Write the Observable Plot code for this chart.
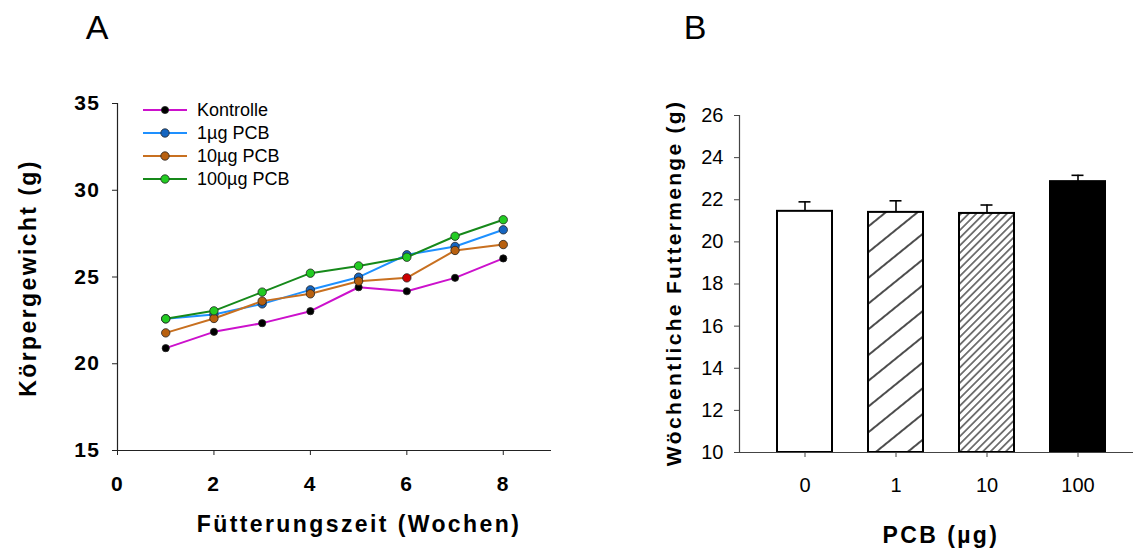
<!DOCTYPE html>
<html><head><meta charset="utf-8">
<script src="https://cdn.jsdelivr.net/npm/d3@7"></script>
<script src="https://cdn.jsdelivr.net/npm/@observablehq/plot@0.6"></script>
<style>
body{margin:0;background:#fff;font-family:"Liberation Sans",Arial,sans-serif;}
#wrap{position:relative;width:1133px;height:556px;overflow:hidden;background:#fff;}
#wrap svg.panel{position:absolute;top:0;}
#panelA text{letter-spacing:1.5px;}
.t{position:absolute;white-space:nowrap;color:#000;line-height:1;}
.title{font-weight:bold;letter-spacing:2.4px;}
.rot{transform:translate(-50%,-50%) rotate(-90deg);}
.ctr{transform:translateX(-50%);}
.leg{position:absolute;left:143px;font-size:18px;line-height:1;display:flex;align-items:center;white-space:nowrap;}
.leg svg{margin-right:10px;}
</style></head>
<body>
<div id="wrap"></div>
<script>
// ---- Panel A data ----
const weeks = [1, 2, 3, 4, 5, 6, 7, 8];
const seriesNames = ["Kontrolle", "1µg PCB", "10µg PCB", "100µg PCB"];
const kontrolle = [20.9, 21.84, 22.34, 23.03, 24.41, 24.18, 24.95, 26.07];
const pcb1 = [22.59, 22.84, 23.45, 24.26, 24.99, 26.28, 26.76, 27.72];
const pcb10 = [21.78, 22.61, 23.61, 24.03, 24.76, 24.95, 26.53, 26.87];
const pcb100 = [22.59, 23.05, 24.13, 25.22, 25.64, 26.14, 27.35, 28.30];
const xTicksA = [0, 2, 4, 6, 8];
const yTicksA = [15, 20, 25, 30, 35];
const xDomainA = [0, 9];
const yDomainA = [15, 35];

// ---- Panel B data ----
const doses = ["0", "1", "10", "100"];
const futter = [21.45, 21.40, 21.35, 22.86];
const futterErr = [0.45, 0.55, 0.40, 0.30];
const yTicksB = [10, 12, 14, 16, 18, 20, 22, 24, 26];
const yDomainB = [10, 26];

// ---- styles ----
const lineColors = ["#cc11cc", "#1e90ff", "#c87020", "#16891a"];
const markerColors = ["#000000", "#1565c0", "#b8600f", "#22cc22"];
const barFills = ["white", "url(#hatchWide)", "url(#hatchDense)", "black"];
const font = "'Liberation Sans', Arial, sans-serif";

const wrap = document.getElementById("wrap");
const allSeries = [kontrolle, pcb1, pcb10, pcb100];

const seriesMarks = allSeries.flatMap((vals, s) => {
  const rows = weeks.map((w, i) => ({week: w, g: vals[i], i}));
  return [
    Plot.line(rows, {x: "week", y: "g", stroke: lineColors[s], strokeWidth: 2}),
    Plot.dot(rows, {x: "week", y: "g", r: s === 0 ? 3.6 : 4.2,
      fill: d => (s === 2 && d.i === 5) ? "#cc0000" : markerColors[s],
      stroke: "#222", strokeWidth: 0.8})
  ];
});

const plotA = Plot.plot({
  width: 560, height: 556,
  marginLeft: 117, marginRight: 9, marginTop: 103, marginBottom: 106,
  x: {domain: xDomainA},
  y: {domain: yDomainA},
  color: {type: "identity"},
  style: {fontFamily: font, background: "transparent", color: "#000"},
  marks: [
    Plot.ruleX([xDomainA[0]], {stroke: "#222", strokeWidth: 1.2}),
    Plot.ruleY([yDomainA[0]], {stroke: "#222", strokeWidth: 1.2}),
    Plot.axisX({ticks: xTicksA, tickSize: 5, tickPadding: 21, fontSize: 21, fontWeight: "bold", label: null, stroke: "#222"}),
    Plot.axisY({ticks: yTicksA, tickSize: 5, tickPadding: 12, fontSize: 21, fontWeight: "bold", label: null, stroke: "#222"}),
    ...seriesMarks
  ]
});
plotA.classList.add("panel");
plotA.id = "panelA";
plotA.style.left = "0px";
wrap.appendChild(plotA);

const rowsB = doses.map((d, i) => ({dose: d, v: futter[i], e: futterErr[i], fill: barFills[i]}));

const plotB = Plot.plot({
  width: 573, height: 556,
  marginLeft: 179, marginRight: 0, marginTop: 115, marginBottom: 104,
  x: {domain: doses, range: [179, 582], paddingInner: 0.4, paddingOuter: 0.4},
  y: {domain: yDomainB},
  color: {type: "identity"},
  style: {fontFamily: font, background: "transparent", color: "#000"},
  marks: [
    Plot.barY(rowsB, {x: "dose", y1: yDomainB[0], y2: "v", fill: "fill", stroke: "black", strokeWidth: 2}),
    Plot.ruleX(rowsB, {x: "dose", y1: "v", y2: d => d.v + d.e, stroke: "black", strokeWidth: 1.6}),
    Plot.tickY(rowsB, {x: "dose", y: d => d.v + d.e, insetLeft: 21.5, insetRight: 21.5, stroke: "black", strokeWidth: 1.6}),
    Plot.ruleY([yDomainB[0]], {stroke: "#444", strokeWidth: 1.2}),
    Plot.frame({anchor: "left", stroke: "#444", strokeWidth: 1.2}),
    Plot.axisX({tickSize: 5, tickPadding: 20, fontSize: 20, label: null, stroke: "#444"}),
    Plot.axisY({ticks: yTicksB, tickSize: 5, tickPadding: 11, fontSize: 20, label: null, stroke: "#444"})
  ]
});
plotB.classList.add("panel");
plotB.style.left = "560px";
const ns = "http://www.w3.org/2000/svg";
const defs = document.createElementNS(ns, "defs");
defs.innerHTML =
  '<pattern id="hatchWide" patternUnits="userSpaceOnUse" width="40" height="20" patternTransform="rotate(-39)">' +
  '<rect width="40" height="20" fill="white"/><line x1="0" y1="10" x2="40" y2="10" stroke="#111" stroke-width="1.3"/></pattern>' +
  '<pattern id="hatchDense" patternUnits="userSpaceOnUse" width="20" height="5.4" patternTransform="rotate(-45)">' +
  '<rect width="20" height="5.4" fill="white"/><line x1="0" y1="2.7" x2="20" y2="2.7" stroke="#111" stroke-width="1.1"/></pattern>';
plotB.insertBefore(defs, plotB.firstChild);
wrap.appendChild(plotB);

// ---- texts ----
function addText(txt, cls, css) {
  const d = document.createElement("div");
  d.className = "t " + cls;
  d.textContent = txt;
  Object.assign(d.style, css);
  wrap.appendChild(d);
  return d;
}
addText("A", "ctr", {left: "97px", top: "10px", fontSize: "34px"});
addText("B", "ctr", {left: "695px", top: "10px", fontSize: "34px"});
addText("Fütterungszeit (Wochen)", "title ctr", {left: "359px", top: "513px", fontSize: "23px"});
addText("Körpergewicht (g)", "title rot", {left: "28px", top: "278px", fontSize: "23px"});
addText("Wöchentliche Futtermenge (g)", "title rot", {left: "673px", top: "283px", fontSize: "21px", letterSpacing: "2.3px"});
addText("PCB (µg)", "title ctr", {left: "941px", top: "524px", fontSize: "23px"});

// ---- legend ----
seriesNames.forEach((name, s) => {
  const row = document.createElement("div");
  row.className = "leg";
  row.style.top = (110 + s * 23 - 9) + "px";
  row.innerHTML = `<svg width="44" height="18"><line x1="0" y1="9" x2="44" y2="9" stroke="${lineColors[s]}" stroke-width="2"/>` +
    `<circle cx="22" cy="9" r="${s === 0 ? 3.6 : 4.2}" fill="${markerColors[s]}" stroke="#222" stroke-width="0.8"/></svg>` +
    `<span>${name}</span>`;
  wrap.appendChild(row);
});
</script>
</body></html>
